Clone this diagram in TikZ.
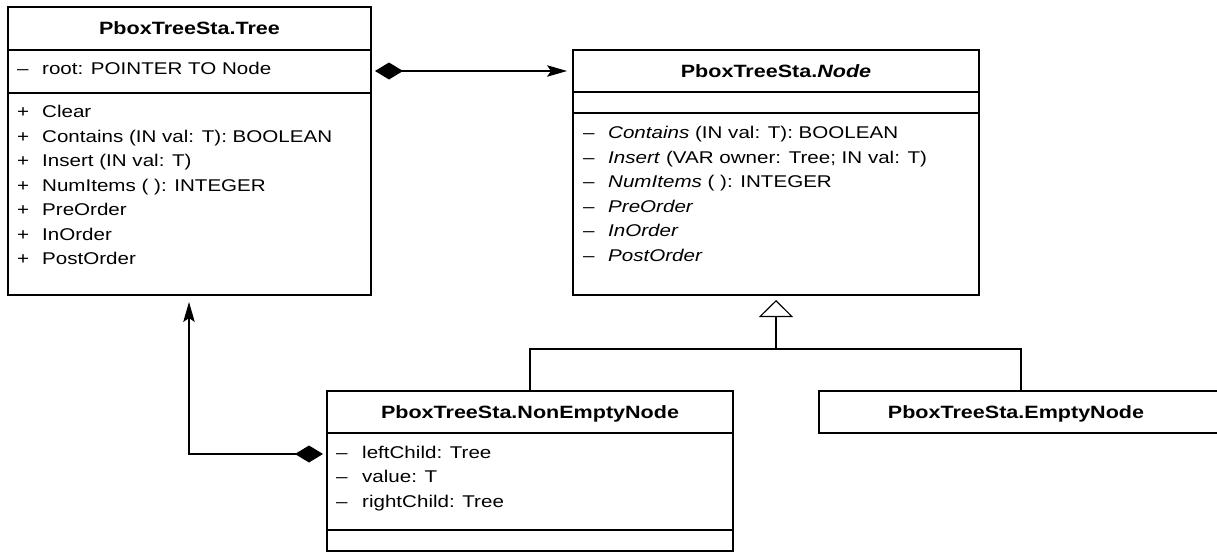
\documentclass[tikz,border=0pt]{standalone}
\usepackage{fontspec}
\setmainfont{Liberation Sans}[FakeStretch=1.21]
\usetikzlibrary{arrows.meta,calc}

\begin{document}
\begin{tikzpicture}[x=1pt,y=-1pt,
  box/.style={draw, line width=1.1pt, rectangle, anchor=north west, inner sep=0pt, outer sep=0pt},
  ttl/.style={anchor=base, font=\fontsize{17.8}{20}\selectfont\bfseries, inner sep=0pt},
  row/.style={anchor=base west, font=\fontsize{17}{20}\selectfont, inner sep=0pt},
  sep/.style={line width=1.1pt},
  link/.style={line width=1.1pt},
  comp/.style={link, {Diamond[length=28pt,width=17pt]}-{Stealth[length=20pt,width=11.5pt,inset=4pt]}},
]
\useasboundingbox (0,0) rectangle (1217,552);

% ---- class PboxTreeSta.Tree ----
\node[box, minimum width=363pt, minimum height=288pt] (tree) at (8,7) {};
\draw[sep] ([yshift=-43pt]tree.north west) -- ([yshift=-43pt]tree.north east);
\draw[sep] ([yshift=-86pt]tree.north west) -- ([yshift=-86pt]tree.north east);
\node[ttl] (tree-title) at (189.5,34.7) {PboxTreeSta.Tree};
\node[row] (tree-as0) at (17,74.5) {–};
\node[row] (tree-a0) at (42,74.5) {root: POINTER TO Node};
\foreach \t [count=\i from 0] in {Clear,
    {Contains (IN val: T): BOOLEAN},
    {Insert (IN val: T)},
    {NumItems ( ): INTEGER},
    PreOrder, InOrder, PostOrder} {
  \node[row] (tree-os\i) at (17,{117.7+24.5*\i}) {+};
  \node[row] (tree-o\i) at (42,{117.7+24.5*\i}) {\t};
}

% ---- abstract class PboxTreeSta.Node ----
\node[box, minimum width=406pt, minimum height=245pt] (nd) at (573,50) {};
\draw[sep] ([yshift=-42pt]nd.north west) -- ([yshift=-42pt]nd.north east);
\draw[sep] ([yshift=-63pt]nd.north west) -- ([yshift=-63pt]nd.north east);
\node[ttl] (nd-title) at (776,77) {PboxTreeSta.\textit{Node}};
\foreach \t [count=\i from 0] in {
    {\textit{Contains} (IN val: T): BOOLEAN},
    {\textit{Insert} (VAR owner: Tree; IN val: T)},
    {\textit{NumItems} ( ): INTEGER},
    {\textit{PreOrder}}, {\textit{InOrder}}, {\textit{PostOrder}}} {
  \node[row] (nd-os\i) at (583,{138.5+24.5*\i}) {–};
  \node[row] (nd-o\i) at (608,{138.5+24.5*\i}) {\t};
}

% ---- class PboxTreeSta.NonEmptyNode ----
\node[box, minimum width=406pt, minimum height=160pt] (ne) at (327,391) {};
\draw[sep] ([yshift=-42pt]ne.north west) -- ([yshift=-42pt]ne.north east);
\draw[sep] ([yshift=-139pt]ne.north west) -- ([yshift=-139pt]ne.north east);
\node[ttl] (ne-title) at (530,418) {PboxTreeSta.NonEmptyNode};
\foreach \t [count=\i from 0] in {{leftChild: Tree}, {value: T}, {rightChild: Tree}} {
  \node[row] (ne-as\i) at (336,{458+24.5*\i}) {–};
  \node[row] (ne-a\i) at (362,{458+24.5*\i}) {\t};
}

% ---- class PboxTreeSta.EmptyNode ----
\node[box, minimum width=400pt, minimum height=42pt] (en) at (819,391) {};
\node[ttl] (en-title) at (1016,418) {PboxTreeSta.EmptyNode};

% ---- relations ----
% Tree owns its root Node
\draw[comp, shorten <=4pt, shorten >=6pt]
  ([yshift=-64pt]tree.north east) -- ([yshift=-21pt]nd.north west);
% NonEmptyNode owns its child Trees
\draw[comp, shorten <=4pt, shorten >=7pt]
  ([yshift=-63pt]ne.north west) -| ([xshift=-0.5pt]tree.south);
% both node kinds extend Node
\coordinate (bar) at ([yshift=-54pt]nd.south);
\draw[link, -{Triangle[open,length=17pt,width=34pt]}, shorten >=5pt] (bar) -- (nd.south);
\draw[link] (ne.north) |- (bar) -| ([xshift=2pt]en.north);
\end{tikzpicture}
\end{document}
